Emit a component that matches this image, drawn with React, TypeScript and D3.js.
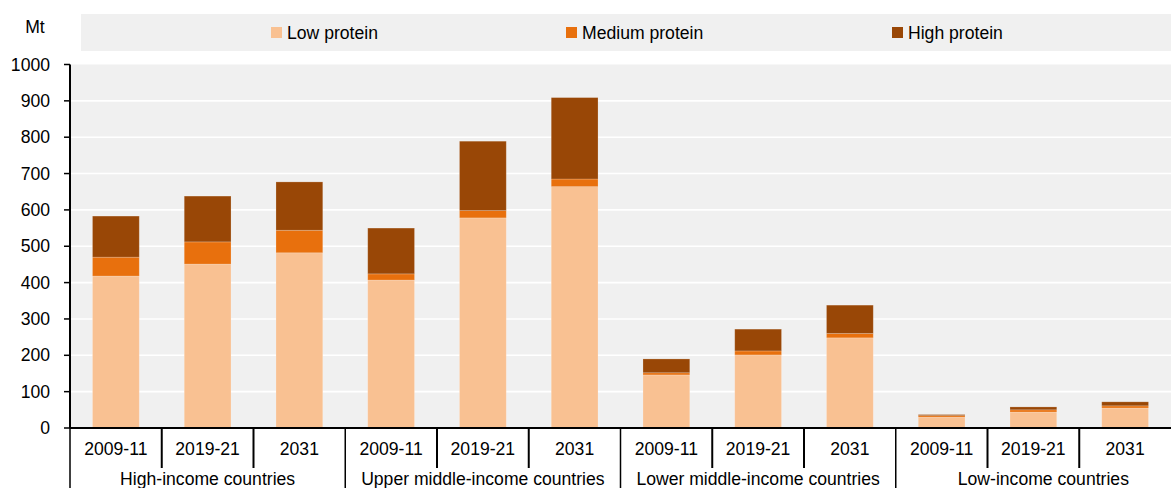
import React from "react";
import * as d3 from "d3";

const groups = ["High-income countries", "Upper middle-income countries", "Lower middle-income countries", "Low-income countries"];
const periods = ["2009-11", "2019-21", "2031"];
const seriesNames = ["Low protein", "Medium protein", "High protein"];
const seriesColors = ["#F9C192", "#E8700D", "#994706"];
const lowProtein = [418, 451, 482, 407, 578, 664, 146, 201, 248, 30, 44, 55];
const mediumProtein = [52, 61, 62, 17, 20, 21, 6, 11, 12, 4, 6, 6];
const highProtein = [113, 126, 133, 126, 191, 224, 38, 60, 78, 3, 8, 11];
const yTicks = [0, 100, 200, 300, 400, 500, 600, 700, 800, 900, 1000];

const W = 1171;
const H = 488;
const left = 70;
const right = 1171;
const top = 64.5;
const bottom = 428;

export default function App() {
  const keys = groups.flatMap((g, gi) => periods.map((p, pi) => `${gi}|${pi}`));
  const x = d3.scaleBand<string>().domain(keys).range([left, right]).paddingInner(0.49).paddingOuter(0.245);
  const band = (right - left) / keys.length;
  const y = d3.scaleLinear().domain([0, 1000]).range([bottom, top]);
  const rows = keys.map((k, i) => ({ key: k, low: lowProtein[i], medium: mediumProtein[i], high: highProtein[i] }));
  const stacked = d3.stack<any>().keys(["low", "medium", "high"])(rows);
  const font = "'Liberation Sans', Arial, sans-serif";
  const legendX = [271, 566, 892];
  const fs = 17.6;

  return (
    <svg width={W} height={H} style={{ position: "absolute", left: 0, top: 0 }} fontFamily={font}>
      <rect x={0} y={0} width={W} height={H} fill="#fff" />
      {/* legend */}
      <rect x={81} y={14} width={W - 81} height={37} fill="#f0f0f0" />
      {seriesNames.map((s, i) => (
        <g key={s}>
          <rect x={legendX[i]} y={27} width={11} height={11} fill={seriesColors[i]} />
          <text x={legendX[i] + 16} y={39} fontSize={fs} fill="#000">{s}</text>
        </g>
      ))}
      <text x={35} y={33} fontSize={fs} textAnchor="middle" fill="#000">Mt</text>
      {/* plot bg */}
      <rect x={left} y={top} width={right - left} height={bottom - top} fill="#f0f0f0" />
      {yTicks.map((t) => (
        <g key={t}>
          {t > 0 && t < 1000 && <line x1={left} x2={right} y1={y(t)} y2={y(t)} stroke="#fff" strokeWidth={1.6} />}
          <line x1={left - 6} x2={left} y1={y(t)} y2={y(t)} stroke="#000" strokeWidth={1.5} />
          <text x={50} y={y(t) + 6} fontSize={fs} textAnchor="end" fill="#000">{t}</text>
        </g>
      ))}
      {/* bars */}
      {stacked.map((s, si) => (
        <g key={si} fill={seriesColors[si]}>
          {s.map((d, i) => (
            <rect key={i} x={x(keys[i])} width={x.bandwidth()} y={y(d[1])} height={y(d[0]) - y(d[1])} stroke="#fff" strokeOpacity={0.25} strokeWidth={0.8} />
          ))}
        </g>
      ))}
      {/* axes */}
      <line x1={left} x2={left} y1={top} y2={bottom} stroke="#000" strokeWidth={2} />
      <line x1={left} x2={right} y1={bottom} y2={bottom} stroke="#000" strokeWidth={2} />
      {keys.map((k, i) => {
        const xb = left + i * band;
        const isGroup = i % 3 === 0;
        return (
          <g key={k}>
            {i > 0 && <line x1={xb} x2={xb} y1={bottom} y2={isGroup ? H : 468} stroke="#000" strokeWidth={isGroup ? 1.5 : 2} />}
            <text x={xb + band / 2} y={455} fontSize={fs} textAnchor="middle" fill="#000">{periods[i % 3]}</text>
          </g>
        );
      })}
      <line x1={left} x2={left} y1={bottom} y2={H} stroke="#000" strokeWidth={1.5} />
      {groups.map((g, gi) => (
        <text key={g} x={left + (gi * 3 + 1.5) * band + (gi === 3 ? 10 : 0)} y={485} fontSize={fs} textAnchor="middle" fill="#000">{g}</text>
      ))}
    </svg>
  );
}
